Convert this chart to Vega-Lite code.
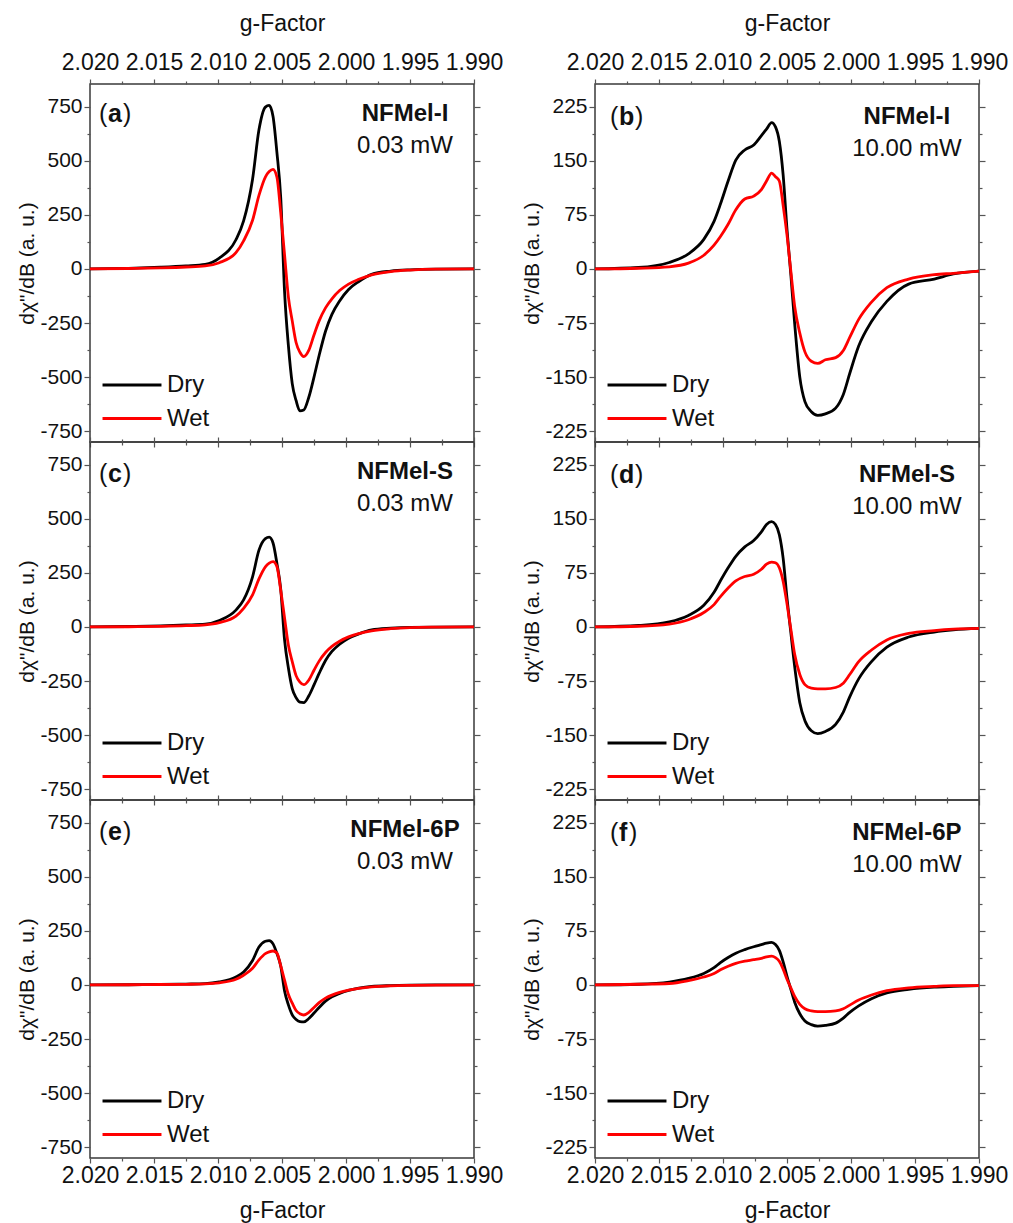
{
"$schema": "https://vega.github.io/schema/vega-lite/v6.json",
"background": "white",
"padding": {"left": 16, "top": 11, "right": 5, "bottom": 5},
"datasets": {
"a": [{"g":2.02,"Dry":0,"Wet":0},{"g":2.017,"Dry":3,"Wet":2},{"g":2.0145,"Dry":8,"Wet":5},{"g":2.0125,"Dry":14,"Wet":9},{"g":2.011,"Dry":21,"Wet":14},{"g":2.0099,"Dry":50,"Wet":29},{"g":2.0086,"Dry":135,"Wet":75},{"g":2.008,"Dry":222,"Wet":130},{"g":2.0073,"Dry":415,"Wet":225},{"g":2.0068,"Dry":643,"Wet":340},{"g":2.0063,"Dry":748,"Wet":425},{"g":2.006,"Dry":756,"Wet":450},{"g":2.0057,"Dry":705,"Wet":460},{"g":2.0054,"Dry":540,"Wet":425},{"g":2.0051,"Dry":330,"Wet":260},{"g":2.0048,"Dry":-105,"Wet":65},{"g":2.0045,"Dry":-355,"Wet":-130},{"g":2.0042,"Dry":-530,"Wet":-240},{"g":2.0039,"Dry":-608,"Wet":-340},{"g":2.0036,"Dry":-656,"Wet":-385},{"g":2.0033,"Dry":-652,"Wet":-405},{"g":2.0029,"Dry":-592,"Wet":-375},{"g":2.0025,"Dry":-500,"Wet":-305},{"g":2.0021,"Dry":-400,"Wet":-240},{"g":2.0016,"Dry":-288,"Wet":-180},{"g":2.0011,"Dry":-210,"Wet":-138},{"g":2.0005,"Dry":-148,"Wet":-100},{"g":1.9998,"Dry":-95,"Wet":-70},{"g":1.999,"Dry":-58,"Wet":-48},{"g":1.998,"Dry":-25,"Wet":-27},{"g":1.9965,"Dry":-10,"Wet":-12},{"g":1.995,"Dry":-4,"Wet":-5},{"g":1.993,"Dry":-1,"Wet":-1},{"g":1.99,"Dry":0,"Wet":0}],
"c": [{"g":2.02,"Dry":0,"Wet":0},{"g":2.017,"Dry":2,"Wet":1},{"g":2.0145,"Dry":5,"Wet":3},{"g":2.0125,"Dry":9,"Wet":6},{"g":2.011,"Dry":13,"Wet":10},{"g":2.0099,"Dry":30,"Wet":20},{"g":2.0086,"Dry":78,"Wet":50},{"g":2.008,"Dry":125,"Wet":86},{"g":2.0073,"Dry":232,"Wet":148},{"g":2.0068,"Dry":355,"Wet":222},{"g":2.0063,"Dry":408,"Wet":278},{"g":2.006,"Dry":415,"Wet":295},{"g":2.0057,"Dry":388,"Wet":302},{"g":2.0054,"Dry":295,"Wet":280},{"g":2.0051,"Dry":175,"Wet":170},{"g":2.0048,"Dry":-60,"Wet":42},{"g":2.0045,"Dry":-190,"Wet":-85},{"g":2.0042,"Dry":-285,"Wet":-160},{"g":2.0039,"Dry":-327,"Wet":-225},{"g":2.0036,"Dry":-348,"Wet":-255},{"g":2.0033,"Dry":-350,"Wet":-267},{"g":2.0029,"Dry":-318,"Wet":-245},{"g":2.0025,"Dry":-268,"Wet":-200},{"g":2.0021,"Dry":-215,"Wet":-158},{"g":2.0016,"Dry":-155,"Wet":-118},{"g":2.0011,"Dry":-113,"Wet":-90},{"g":2.0005,"Dry":-80,"Wet":-66},{"g":1.9998,"Dry":-52,"Wet":-46},{"g":1.999,"Dry":-32,"Wet":-31},{"g":1.998,"Dry":-14,"Wet":-18},{"g":1.9965,"Dry":-6,"Wet":-8},{"g":1.995,"Dry":-2,"Wet":-3},{"g":1.993,"Dry":-1,"Wet":-1},{"g":1.99,"Dry":0,"Wet":0}],
"e": [{"g":2.02,"Dry":0,"Wet":0},{"g":2.017,"Dry":1,"Wet":1},{"g":2.0145,"Dry":2,"Wet":2},{"g":2.0125,"Dry":4,"Wet":3},{"g":2.011,"Dry":6,"Wet":5},{"g":2.0099,"Dry":14,"Wet":10},{"g":2.0086,"Dry":37,"Wet":26},{"g":2.008,"Dry":60,"Wet":45},{"g":2.0073,"Dry":113,"Wet":77},{"g":2.0068,"Dry":175,"Wet":116},{"g":2.0063,"Dry":202,"Wet":145},{"g":2.006,"Dry":205,"Wet":153},{"g":2.0057,"Dry":190,"Wet":157},{"g":2.0054,"Dry":146,"Wet":148},{"g":2.0051,"Dry":88,"Wet":89},{"g":2.0048,"Dry":-28,"Wet":22},{"g":2.0045,"Dry":-92,"Wet":-44},{"g":2.0042,"Dry":-138,"Wet":-84},{"g":2.0039,"Dry":-160,"Wet":-118},{"g":2.0036,"Dry":-170,"Wet":-133},{"g":2.0033,"Dry":-171,"Wet":-139},{"g":2.0029,"Dry":-155,"Wet":-127},{"g":2.0025,"Dry":-130,"Wet":-104},{"g":2.0021,"Dry":-104,"Wet":-82},{"g":2.0016,"Dry":-75,"Wet":-61},{"g":2.0011,"Dry":-55,"Wet":-47},{"g":2.0005,"Dry":-39,"Wet":-34},{"g":1.9998,"Dry":-25,"Wet":-24},{"g":1.999,"Dry":-15,"Wet":-16},{"g":1.998,"Dry":-7,"Wet":-9},{"g":1.9965,"Dry":-3,"Wet":-4},{"g":1.995,"Dry":-1,"Wet":-2},{"g":1.993,"Dry":0,"Wet":-1},{"g":1.99,"Dry":0,"Wet":0}],
"b": [{"g":2.02,"Dry":0,"Wet":0},{"g":2.0166,"Dry":2,"Wet":1},{"g":2.0142,"Dry":9,"Wet":3},{"g":2.0127,"Dry":21,"Wet":8},{"g":2.0115,"Dry":41,"Wet":19},{"g":2.0107,"Dry":66,"Wet":33},{"g":2.0102,"Dry":90,"Wet":45},{"g":2.0096,"Dry":122,"Wet":62},{"g":2.009,"Dry":151,"Wet":82},{"g":2.0083,"Dry":165,"Wet":97},{"g":2.0076,"Dry":172,"Wet":101},{"g":2.007,"Dry":185,"Wet":110},{"g":2.0066,"Dry":194,"Wet":122},{"g":2.0062,"Dry":203,"Wet":133},{"g":2.0059,"Dry":197,"Wet":128},{"g":2.0056,"Dry":177,"Wet":122},{"g":2.0053,"Dry":130,"Wet":88},{"g":2.005,"Dry":55,"Wet":47},{"g":2.0047,"Dry":-8,"Wet":-3},{"g":2.0044,"Dry":-76,"Wet":-52},{"g":2.004,"Dry":-150,"Wet":-89},{"g":2.0036,"Dry":-184,"Wet":-115},{"g":2.0031,"Dry":-198,"Wet":-128},{"g":2.0026,"Dry":-203,"Wet":-131},{"g":2.002,"Dry":-201,"Wet":-126},{"g":2.0012,"Dry":-193,"Wet":-123},{"g":2.0006,"Dry":-174,"Wet":-113},{"g":2.0001,"Dry":-145,"Wet":-95},{"g":1.9994,"Dry":-107,"Wet":-70},{"g":1.9984,"Dry":-73,"Wet":-46},{"g":1.9972,"Dry":-45,"Wet":-26},{"g":1.9955,"Dry":-21,"Wet":-14},{"g":1.9935,"Dry":-14,"Wet":-8},{"g":1.992,"Dry":-7,"Wet":-6},{"g":1.99,"Dry":-3,"Wet":-3}],
"d": [{"g":2.02,"Dry":0,"Wet":0},{"g":2.0166,"Dry":2,"Wet":1},{"g":2.0142,"Dry":7,"Wet":4},{"g":2.0127,"Dry":16,"Wet":10},{"g":2.0115,"Dry":30,"Wet":20},{"g":2.0107,"Dry":48,"Wet":31},{"g":2.0102,"Dry":64,"Wet":42},{"g":2.0096,"Dry":82,"Wet":54},{"g":2.009,"Dry":98,"Wet":64},{"g":2.0083,"Dry":111,"Wet":70},{"g":2.0076,"Dry":120,"Wet":73},{"g":2.007,"Dry":132,"Wet":80},{"g":2.0066,"Dry":142,"Wet":87},{"g":2.0062,"Dry":146,"Wet":90},{"g":2.0059,"Dry":142,"Wet":89},{"g":2.0056,"Dry":128,"Wet":82},{"g":2.0053,"Dry":95,"Wet":63},{"g":2.005,"Dry":40,"Wet":32},{"g":2.0047,"Dry":-8,"Wet":-3},{"g":2.0044,"Dry":-55,"Wet":-38},{"g":2.004,"Dry":-105,"Wet":-66},{"g":2.0036,"Dry":-130,"Wet":-80},{"g":2.0031,"Dry":-144,"Wet":-85},{"g":2.0026,"Dry":-148,"Wet":-86},{"g":2.002,"Dry":-145,"Wet":-86},{"g":2.0012,"Dry":-135,"Wet":-84},{"g":2.0006,"Dry":-118,"Wet":-78},{"g":2.0001,"Dry":-97,"Wet":-66},{"g":1.9994,"Dry":-72,"Wet":-48},{"g":1.9984,"Dry":-48,"Wet":-32},{"g":1.9972,"Dry":-28,"Wet":-18},{"g":1.9955,"Dry":-14,"Wet":-9},{"g":1.9935,"Dry":-7,"Wet":-5},{"g":1.992,"Dry":-4,"Wet":-3},{"g":1.99,"Dry":-2,"Wet":-2}],
"f": [{"g":2.02,"Dry":0,"Wet":0},{"g":2.0166,"Dry":1,"Wet":1},{"g":2.0142,"Dry":4,"Wet":2},{"g":2.0127,"Dry":9,"Wet":6},{"g":2.0115,"Dry":16,"Wet":11},{"g":2.0107,"Dry":24,"Wet":16},{"g":2.0102,"Dry":31,"Wet":21},{"g":2.0096,"Dry":38,"Wet":26},{"g":2.009,"Dry":44,"Wet":30},{"g":2.0083,"Dry":49,"Wet":33},{"g":2.0076,"Dry":53,"Wet":35},{"g":2.007,"Dry":56,"Wet":37},{"g":2.0066,"Dry":58,"Wet":39},{"g":2.0062,"Dry":59,"Wet":40},{"g":2.0059,"Dry":56,"Wet":38},{"g":2.0056,"Dry":48,"Wet":33},{"g":2.0053,"Dry":32,"Wet":22},{"g":2.005,"Dry":12,"Wet":8},{"g":2.0047,"Dry":-6,"Wet":-4},{"g":2.0044,"Dry":-24,"Wet":-16},{"g":2.004,"Dry":-40,"Wet":-27},{"g":2.0036,"Dry":-50,"Wet":-33},{"g":2.0031,"Dry":-55,"Wet":-36},{"g":2.0026,"Dry":-57,"Wet":-37},{"g":2.002,"Dry":-56,"Wet":-37},{"g":2.0012,"Dry":-53,"Wet":-36},{"g":2.0006,"Dry":-46,"Wet":-33},{"g":2.0001,"Dry":-38,"Wet":-28},{"g":1.9994,"Dry":-29,"Wet":-21},{"g":1.9984,"Dry":-19,"Wet":-14},{"g":1.9972,"Dry":-11,"Wet":-8},{"g":1.9955,"Dry":-6,"Wet":-4},{"g":1.9935,"Dry":-3,"Wet":-2},{"g":1.992,"Dry":-2,"Wet":-1},{"g":1.99,"Dry":-1,"Wet":-1}]
},
"columns": 2,
"spacing": {"row": 0, "column": 121},
"bounds": "flush",
"resolve": {"scale": {"color": "independent"}, "legend": {"color": "independent"}},
"concat": [
{"width":384,"height":358,"data":{"name":"a"},"transform":[{"fold":["Dry","Wet"],"as":["s","v"]}],
"layer":[
{"mark":{"type":"line","strokeWidth":2.8,"interpolate":"monotone"},"encoding":{
"x":{"field":"g","type":"quantitative","scale":{"domain":[1.99,2.02],"reverse":true,"nice":false,"zero":false},"axis":{"orient":"bottom","values":[2.02,2.015,2.01,2.005,2.0,1.995,1.99],"labels":false,"title":null}},
"y":{"field":"v","type":"quantitative","scale":{"domain":[-800,855],"nice":false,"zero":false},"axis":{"orient":"left","values":[-750,-500,-250,0,250,500,750],"title":"dχ\"/dB (a. u.)"}},
"color":{"field":"s","type":"nominal","scale":{"domain":["Dry","Wet"],"range":["#000000","#ff0000"]},"legend":{"orient":"none","legendX":30,"legendY":289,"title":null}}}},
{"mark":{"type":"line","opacity":0},"encoding":{
"x":{"field":"g","type":"quantitative","axis":{"orient":"top","values":[2.02,2.015,2.01,2.005,2.0,1.995,1.99],"format":".3f","title":"g-Factor","labelPadding":5,"titlePadding":16}},
"y":{"field":"v","type":"quantitative","axis":{"orient":"right","values":[-750,-500,-250,0,250,500,750],"labels":false,"title":null}}}},
{"mark":{"type":"line","opacity":0},"encoding":{
"x":{"field":"g","type":"quantitative","axis":{"orient":"bottom","values":[2.0175,2.0125,2.0075,2.0025,1.9975,1.9925],"labels":false,"title":null,"tickSize":3}},
"y":{"field":"v","type":"quantitative","axis":{"orient":"left","values":[-625,-375,-125,125,375,625],"labels":false,"title":null,"tickSize":3}}}},
{"mark":{"type":"line","opacity":0},"encoding":{
"x":{"field":"g","type":"quantitative","axis":{"orient":"top","values":[2.0175,2.0125,2.0075,2.0025,1.9975,1.9925],"labels":false,"title":null,"tickSize":3}},
"y":{"field":"v","type":"quantitative","axis":{"orient":"right","values":[-625,-375,-125,125,375,625],"labels":false,"title":null,"tickSize":3}}}},
{"data":{"values":[{}]},"mark":{"type":"text","align":"left","fontSize":25},"encoding":{"x":{"datum":2.0193,"type":"quantitative","axis":null},"y":{"datum":678,"type":"quantitative","axis":null},"text":{"value":"("}}},
{"data":{"values":[{}]},"mark":{"type":"text","align":"left","fontSize":25,"fontWeight":"bold","dx":9},"encoding":{"x":{"datum":2.0193,"type":"quantitative","axis":null},"y":{"datum":678,"type":"quantitative","axis":null},"text":{"value":"a"}}},
{"data":{"values":[{}]},"mark":{"type":"text","align":"left","fontSize":25,"dx":24},"encoding":{"x":{"datum":2.0193,"type":"quantitative","axis":null},"y":{"datum":678,"type":"quantitative","axis":null},"text":{"value":")"}}},
{"data":{"values":[{}]},"mark":{"type":"text","align":"center","fontSize":24,"fontWeight":"bold"},"encoding":{"x":{"datum":1.99539,"type":"quantitative","axis":null},"y":{"datum":683,"type":"quantitative","axis":null},"text":{"value":"NFMel-I"}}},
{"data":{"values":[{}]},"mark":{"type":"text","align":"center","fontSize":24},"encoding":{"x":{"datum":1.99539,"type":"quantitative","axis":null},"y":{"datum":536,"type":"quantitative","axis":null},"text":{"value":"0.03 mW"}}}
],
"resolve":{"axis":{"x":"independent","y":"independent"}}},

{"width":384,"height":358,"data":{"name":"b"},"transform":[{"fold":["Dry","Wet"],"as":["s","v"]}],
"layer":[
{"mark":{"type":"line","strokeWidth":2.8,"interpolate":"monotone"},"encoding":{
"x":{"field":"g","type":"quantitative","scale":{"domain":[1.99,2.02],"reverse":true,"nice":false,"zero":false},"axis":{"orient":"bottom","values":[2.02,2.015,2.01,2.005,2.0,1.995,1.99],"labels":false,"title":null}},
"y":{"field":"v","type":"quantitative","scale":{"domain":[-240,256.5],"nice":false,"zero":false},"axis":{"orient":"left","values":[-225,-150,-75,0,75,150,225],"title":"dχ\"/dB (a. u.)"}},
"color":{"field":"s","type":"nominal","scale":{"domain":["Dry","Wet"],"range":["#000000","#ff0000"]},"legend":{"orient":"none","legendX":30,"legendY":289,"title":null}}}},
{"mark":{"type":"line","opacity":0},"encoding":{
"x":{"field":"g","type":"quantitative","axis":{"orient":"top","values":[2.02,2.015,2.01,2.005,2.0,1.995,1.99],"format":".3f","title":"g-Factor","labelPadding":5,"titlePadding":16}},
"y":{"field":"v","type":"quantitative","axis":{"orient":"right","values":[-225,-150,-75,0,75,150,225],"labels":false,"title":null}}}},
{"mark":{"type":"line","opacity":0},"encoding":{
"x":{"field":"g","type":"quantitative","axis":{"orient":"bottom","values":[2.0175,2.0125,2.0075,2.0025,1.9975,1.9925],"labels":false,"title":null,"tickSize":3}},
"y":{"field":"v","type":"quantitative","axis":{"orient":"left","values":[-187.5,-112.5,-37.5,37.5,112.5,187.5],"labels":false,"title":null,"tickSize":3}}}},
{"mark":{"type":"line","opacity":0},"encoding":{
"x":{"field":"g","type":"quantitative","axis":{"orient":"top","values":[2.0175,2.0125,2.0075,2.0025,1.9975,1.9925],"labels":false,"title":null,"tickSize":3}},
"y":{"field":"v","type":"quantitative","axis":{"orient":"right","values":[-187.5,-112.5,-37.5,37.5,112.5,187.5],"labels":false,"title":null,"tickSize":3}}}},
{"data":{"values":[{}]},"mark":{"type":"text","align":"left","fontSize":25},"encoding":{"x":{"datum":2.01883,"type":"quantitative","axis":null},"y":{"datum":199,"type":"quantitative","axis":null},"text":{"value":"("}}},
{"data":{"values":[{}]},"mark":{"type":"text","align":"left","fontSize":25,"fontWeight":"bold","dx":9},"encoding":{"x":{"datum":2.01883,"type":"quantitative","axis":null},"y":{"datum":199,"type":"quantitative","axis":null},"text":{"value":"b"}}},
{"data":{"values":[{}]},"mark":{"type":"text","align":"left","fontSize":25,"dx":25},"encoding":{"x":{"datum":2.01883,"type":"quantitative","axis":null},"y":{"datum":199,"type":"quantitative","axis":null},"text":{"value":")"}}},
{"data":{"values":[{}]},"mark":{"type":"text","align":"center","fontSize":24,"fontWeight":"bold"},"encoding":{"x":{"datum":1.99563,"type":"quantitative","axis":null},"y":{"datum":201,"type":"quantitative","axis":null},"text":{"value":"NFMel-I"}}},
{"data":{"values":[{}]},"mark":{"type":"text","align":"center","fontSize":24},"encoding":{"x":{"datum":1.99563,"type":"quantitative","axis":null},"y":{"datum":156,"type":"quantitative","axis":null},"text":{"value":"10.00 mW"}}}
],
"resolve":{"axis":{"x":"independent","y":"independent"}}},

{"width":384,"height":358,"data":{"name":"c"},"transform":[{"fold":["Dry","Wet"],"as":["s","v"]}],
"layer":[
{"mark":{"type":"line","strokeWidth":2.8,"interpolate":"monotone"},"encoding":{
"x":{"field":"g","type":"quantitative","scale":{"domain":[1.99,2.02],"reverse":true,"nice":false,"zero":false},"axis":{"orient":"bottom","values":[2.02,2.015,2.01,2.005,2.0,1.995,1.99],"labels":false,"title":null}},
"y":{"field":"v","type":"quantitative","scale":{"domain":[-800,855],"nice":false,"zero":false},"axis":{"orient":"left","values":[-750,-500,-250,0,250,500,750],"title":"dχ\"/dB (a. u.)"}},
"color":{"field":"s","type":"nominal","scale":{"domain":["Dry","Wet"],"range":["#000000","#ff0000"]},"legend":{"orient":"none","legendX":30,"legendY":289,"title":null}}}},
{"mark":{"type":"line","opacity":0},"encoding":{
"x":{"field":"g","type":"quantitative","axis":{"orient":"top","values":[2.02,2.015,2.01,2.005,2.0,1.995,1.99],"labels":false,"title":null}},
"y":{"field":"v","type":"quantitative","axis":{"orient":"right","values":[-750,-500,-250,0,250,500,750],"labels":false,"title":null}}}},
{"mark":{"type":"line","opacity":0},"encoding":{
"x":{"field":"g","type":"quantitative","axis":{"orient":"bottom","values":[2.0175,2.0125,2.0075,2.0025,1.9975,1.9925],"labels":false,"title":null,"tickSize":3}},
"y":{"field":"v","type":"quantitative","axis":{"orient":"left","values":[-625,-375,-125,125,375,625],"labels":false,"title":null,"tickSize":3}}}},
{"mark":{"type":"line","opacity":0},"encoding":{
"x":{"field":"g","type":"quantitative","axis":{"orient":"top","values":[2.0175,2.0125,2.0075,2.0025,1.9975,1.9925],"labels":false,"title":null,"tickSize":3}},
"y":{"field":"v","type":"quantitative","axis":{"orient":"right","values":[-625,-375,-125,125,375,625],"labels":false,"title":null,"tickSize":3}}}},
{"data":{"values":[{}]},"mark":{"type":"text","align":"left","fontSize":25},"encoding":{"x":{"datum":2.0193,"type":"quantitative","axis":null},"y":{"datum":670,"type":"quantitative","axis":null},"text":{"value":"("}}},
{"data":{"values":[{}]},"mark":{"type":"text","align":"left","fontSize":25,"fontWeight":"bold","dx":9},"encoding":{"x":{"datum":2.0193,"type":"quantitative","axis":null},"y":{"datum":670,"type":"quantitative","axis":null},"text":{"value":"c"}}},
{"data":{"values":[{}]},"mark":{"type":"text","align":"left","fontSize":25,"dx":24},"encoding":{"x":{"datum":2.0193,"type":"quantitative","axis":null},"y":{"datum":670,"type":"quantitative","axis":null},"text":{"value":")"}}},
{"data":{"values":[{}]},"mark":{"type":"text","align":"center","fontSize":24,"fontWeight":"bold"},"encoding":{"x":{"datum":1.99539,"type":"quantitative","axis":null},"y":{"datum":683,"type":"quantitative","axis":null},"text":{"value":"NFMel-S"}}},
{"data":{"values":[{}]},"mark":{"type":"text","align":"center","fontSize":24},"encoding":{"x":{"datum":1.99539,"type":"quantitative","axis":null},"y":{"datum":536,"type":"quantitative","axis":null},"text":{"value":"0.03 mW"}}}
],
"resolve":{"axis":{"x":"independent","y":"independent"}}},

{"width":384,"height":358,"data":{"name":"d"},"transform":[{"fold":["Dry","Wet"],"as":["s","v"]}],
"layer":[
{"mark":{"type":"line","strokeWidth":2.8,"interpolate":"monotone"},"encoding":{
"x":{"field":"g","type":"quantitative","scale":{"domain":[1.99,2.02],"reverse":true,"nice":false,"zero":false},"axis":{"orient":"bottom","values":[2.02,2.015,2.01,2.005,2.0,1.995,1.99],"labels":false,"title":null}},
"y":{"field":"v","type":"quantitative","scale":{"domain":[-240,256.5],"nice":false,"zero":false},"axis":{"orient":"left","values":[-225,-150,-75,0,75,150,225],"title":"dχ\"/dB (a. u.)"}},
"color":{"field":"s","type":"nominal","scale":{"domain":["Dry","Wet"],"range":["#000000","#ff0000"]},"legend":{"orient":"none","legendX":30,"legendY":289,"title":null}}}},
{"mark":{"type":"line","opacity":0},"encoding":{
"x":{"field":"g","type":"quantitative","axis":{"orient":"top","values":[2.02,2.015,2.01,2.005,2.0,1.995,1.99],"labels":false,"title":null}},
"y":{"field":"v","type":"quantitative","axis":{"orient":"right","values":[-225,-150,-75,0,75,150,225],"labels":false,"title":null}}}},
{"mark":{"type":"line","opacity":0},"encoding":{
"x":{"field":"g","type":"quantitative","axis":{"orient":"bottom","values":[2.0175,2.0125,2.0075,2.0025,1.9975,1.9925],"labels":false,"title":null,"tickSize":3}},
"y":{"field":"v","type":"quantitative","axis":{"orient":"left","values":[-187.5,-112.5,-37.5,37.5,112.5,187.5],"labels":false,"title":null,"tickSize":3}}}},
{"mark":{"type":"line","opacity":0},"encoding":{
"x":{"field":"g","type":"quantitative","axis":{"orient":"top","values":[2.0175,2.0125,2.0075,2.0025,1.9975,1.9925],"labels":false,"title":null,"tickSize":3}},
"y":{"field":"v","type":"quantitative","axis":{"orient":"right","values":[-187.5,-112.5,-37.5,37.5,112.5,187.5],"labels":false,"title":null,"tickSize":3}}}},
{"data":{"values":[{}]},"mark":{"type":"text","align":"left","fontSize":25},"encoding":{"x":{"datum":2.01883,"type":"quantitative","axis":null},"y":{"datum":199,"type":"quantitative","axis":null},"text":{"value":"("}}},
{"data":{"values":[{}]},"mark":{"type":"text","align":"left","fontSize":25,"fontWeight":"bold","dx":9},"encoding":{"x":{"datum":2.01883,"type":"quantitative","axis":null},"y":{"datum":199,"type":"quantitative","axis":null},"text":{"value":"d"}}},
{"data":{"values":[{}]},"mark":{"type":"text","align":"left","fontSize":25,"dx":25},"encoding":{"x":{"datum":2.01883,"type":"quantitative","axis":null},"y":{"datum":199,"type":"quantitative","axis":null},"text":{"value":")"}}},
{"data":{"values":[{}]},"mark":{"type":"text","align":"center","fontSize":24,"fontWeight":"bold"},"encoding":{"x":{"datum":1.99563,"type":"quantitative","axis":null},"y":{"datum":201,"type":"quantitative","axis":null},"text":{"value":"NFMel-S"}}},
{"data":{"values":[{}]},"mark":{"type":"text","align":"center","fontSize":24},"encoding":{"x":{"datum":1.99563,"type":"quantitative","axis":null},"y":{"datum":156,"type":"quantitative","axis":null},"text":{"value":"10.00 mW"}}}
],
"resolve":{"axis":{"x":"independent","y":"independent"}}},

{"width":384,"height":358,"data":{"name":"e"},"transform":[{"fold":["Dry","Wet"],"as":["s","v"]}],
"layer":[
{"mark":{"type":"line","strokeWidth":2.8,"interpolate":"monotone"},"encoding":{
"x":{"field":"g","type":"quantitative","scale":{"domain":[1.99,2.02],"reverse":true,"nice":false,"zero":false},"axis":{"orient":"bottom","values":[2.02,2.015,2.01,2.005,2.0,1.995,1.99],"format":".3f","title":"g-Factor","labelPadding":1,"titlePadding":12}},
"y":{"field":"v","type":"quantitative","scale":{"domain":[-800,855],"nice":false,"zero":false},"axis":{"orient":"left","values":[-750,-500,-250,0,250,500,750],"title":"dχ\"/dB (a. u.)"}},
"color":{"field":"s","type":"nominal","scale":{"domain":["Dry","Wet"],"range":["#000000","#ff0000"]},"legend":{"orient":"none","legendX":30,"legendY":289,"title":null}}}},
{"mark":{"type":"line","opacity":0},"encoding":{
"x":{"field":"g","type":"quantitative","axis":{"orient":"top","values":[2.02,2.015,2.01,2.005,2.0,1.995,1.99],"labels":false,"title":null}},
"y":{"field":"v","type":"quantitative","axis":{"orient":"right","values":[-750,-500,-250,0,250,500,750],"labels":false,"title":null}}}},
{"mark":{"type":"line","opacity":0},"encoding":{
"x":{"field":"g","type":"quantitative","axis":{"orient":"bottom","values":[2.0175,2.0125,2.0075,2.0025,1.9975,1.9925],"labels":false,"title":null,"tickSize":3}},
"y":{"field":"v","type":"quantitative","axis":{"orient":"left","values":[-625,-375,-125,125,375,625],"labels":false,"title":null,"tickSize":3}}}},
{"mark":{"type":"line","opacity":0},"encoding":{
"x":{"field":"g","type":"quantitative","axis":{"orient":"top","values":[2.0175,2.0125,2.0075,2.0025,1.9975,1.9925],"labels":false,"title":null,"tickSize":3}},
"y":{"field":"v","type":"quantitative","axis":{"orient":"right","values":[-625,-375,-125,125,375,625],"labels":false,"title":null,"tickSize":3}}}},
{"data":{"values":[{}]},"mark":{"type":"text","align":"left","fontSize":25},"encoding":{"x":{"datum":2.0193,"type":"quantitative","axis":null},"y":{"datum":670,"type":"quantitative","axis":null},"text":{"value":"("}}},
{"data":{"values":[{}]},"mark":{"type":"text","align":"left","fontSize":25,"fontWeight":"bold","dx":9},"encoding":{"x":{"datum":2.0193,"type":"quantitative","axis":null},"y":{"datum":670,"type":"quantitative","axis":null},"text":{"value":"e"}}},
{"data":{"values":[{}]},"mark":{"type":"text","align":"left","fontSize":25,"dx":24},"encoding":{"x":{"datum":2.0193,"type":"quantitative","axis":null},"y":{"datum":670,"type":"quantitative","axis":null},"text":{"value":")"}}},
{"data":{"values":[{}]},"mark":{"type":"text","align":"center","fontSize":24,"fontWeight":"bold"},"encoding":{"x":{"datum":1.99539,"type":"quantitative","axis":null},"y":{"datum":683,"type":"quantitative","axis":null},"text":{"value":"NFMel-6P"}}},
{"data":{"values":[{}]},"mark":{"type":"text","align":"center","fontSize":24},"encoding":{"x":{"datum":1.99539,"type":"quantitative","axis":null},"y":{"datum":536,"type":"quantitative","axis":null},"text":{"value":"0.03 mW"}}}
],
"resolve":{"axis":{"x":"independent","y":"independent"}}},

{"width":384,"height":358,"data":{"name":"f"},"transform":[{"fold":["Dry","Wet"],"as":["s","v"]}],
"layer":[
{"mark":{"type":"line","strokeWidth":2.8,"interpolate":"monotone"},"encoding":{
"x":{"field":"g","type":"quantitative","scale":{"domain":[1.99,2.02],"reverse":true,"nice":false,"zero":false},"axis":{"orient":"bottom","values":[2.02,2.015,2.01,2.005,2.0,1.995,1.99],"format":".3f","title":"g-Factor","labelPadding":1,"titlePadding":12}},
"y":{"field":"v","type":"quantitative","scale":{"domain":[-240,256.5],"nice":false,"zero":false},"axis":{"orient":"left","values":[-225,-150,-75,0,75,150,225],"title":"dχ\"/dB (a. u.)"}},
"color":{"field":"s","type":"nominal","scale":{"domain":["Dry","Wet"],"range":["#000000","#ff0000"]},"legend":{"orient":"none","legendX":30,"legendY":289,"title":null}}}},
{"mark":{"type":"line","opacity":0},"encoding":{
"x":{"field":"g","type":"quantitative","axis":{"orient":"top","values":[2.02,2.015,2.01,2.005,2.0,1.995,1.99],"labels":false,"title":null}},
"y":{"field":"v","type":"quantitative","axis":{"orient":"right","values":[-225,-150,-75,0,75,150,225],"labels":false,"title":null}}}},
{"mark":{"type":"line","opacity":0},"encoding":{
"x":{"field":"g","type":"quantitative","axis":{"orient":"bottom","values":[2.0175,2.0125,2.0075,2.0025,1.9975,1.9925],"labels":false,"title":null,"tickSize":3}},
"y":{"field":"v","type":"quantitative","axis":{"orient":"left","values":[-187.5,-112.5,-37.5,37.5,112.5,187.5],"labels":false,"title":null,"tickSize":3}}}},
{"mark":{"type":"line","opacity":0},"encoding":{
"x":{"field":"g","type":"quantitative","axis":{"orient":"top","values":[2.0175,2.0125,2.0075,2.0025,1.9975,1.9925],"labels":false,"title":null,"tickSize":3}},
"y":{"field":"v","type":"quantitative","axis":{"orient":"right","values":[-187.5,-112.5,-37.5,37.5,112.5,187.5],"labels":false,"title":null,"tickSize":3}}}},
{"data":{"values":[{}]},"mark":{"type":"text","align":"left","fontSize":25},"encoding":{"x":{"datum":2.01883,"type":"quantitative","axis":null},"y":{"datum":199,"type":"quantitative","axis":null},"text":{"value":"("}}},
{"data":{"values":[{}]},"mark":{"type":"text","align":"left","fontSize":25,"fontWeight":"bold","dx":9},"encoding":{"x":{"datum":2.01883,"type":"quantitative","axis":null},"y":{"datum":199,"type":"quantitative","axis":null},"text":{"value":"f"}}},
{"data":{"values":[{}]},"mark":{"type":"text","align":"left","fontSize":25,"dx":19},"encoding":{"x":{"datum":2.01883,"type":"quantitative","axis":null},"y":{"datum":199,"type":"quantitative","axis":null},"text":{"value":")"}}},
{"data":{"values":[{}]},"mark":{"type":"text","align":"center","fontSize":24,"fontWeight":"bold"},"encoding":{"x":{"datum":1.99563,"type":"quantitative","axis":null},"y":{"datum":201,"type":"quantitative","axis":null},"text":{"value":"NFMel-6P"}}},
{"data":{"values":[{}]},"mark":{"type":"text","align":"center","fontSize":24},"encoding":{"x":{"datum":1.99563,"type":"quantitative","axis":null},"y":{"datum":156,"type":"quantitative","axis":null},"text":{"value":"10.00 mW"}}}
],
"resolve":{"axis":{"x":"independent","y":"independent"}}}
],
"config": {
"font": "Liberation Sans",
"locale": {"number": {"decimal": ".", "thousands": ",", "grouping": [3], "currency": ["$", ""], "minus": "-"}},
"view": {"stroke": "#3a3a3a", "strokeWidth": 1.5},
"text": {"font": "Liberation Sans", "color": "#111111", "baseline": "alphabetic"},
"axis": {"domain": false, "grid": false, "tickColor": "#555555", "tickWidth": 1.2, "labelFont": "Liberation Sans", "labelColor": "#111111", "titleFont": "Liberation Sans", "titleFontWeight": "normal", "titleColor": "#111111", "labelOverlap": false, "labelFlush": false, "labelPadding": 2},
"axisX": {"labelFontSize": 23, "titleFontSize": 23, "tickSize": 5, "titlePadding": 8},
"axisY": {"labelFontSize": 21, "titleFontSize": 21, "tickSize": 6, "titlePadding": 2},
"legend": {"labelFont": "Liberation Sans", "labelFontSize": 24, "labelColor": "#111111", "symbolType": "M-5,0H5", "symbolSize": 139, "symbolStrokeWidth": 3, "padding": 0, "labelOffset": 23, "rowPadding": 9.5}
}
}
